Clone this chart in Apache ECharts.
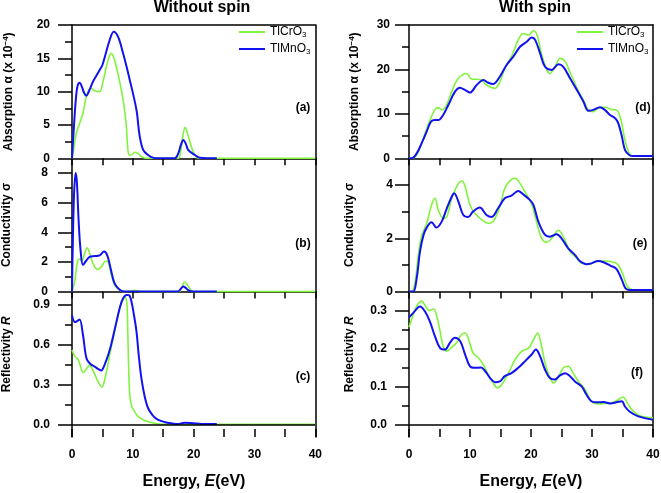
<!DOCTYPE html>
<html><head><meta charset="utf-8">
<script src="https://cdn.jsdelivr.net/npm/echarts@6/dist/echarts.min.js"></script>
<style>html,body{margin:0;padding:0;background:#fff}#c{width:661px;height:493px}</style>
</head><body><div id="c"></div>
<script>
// ---------- DATA ----------
const seriesNames = ['TlCrO3', 'TlMnO3'];
const energyTicks = [0, 5, 10, 15, 20, 25, 30, 35, 40];
const energyLabels = [0, 10, 20, 30, 40];

// (a) absorption, without spin
const absNoCrE = [0, 0.4, 0.71, 1.26, 1.8, 2.36, 3.07, 3.73, 4.55, 5.1, 5.65, 6.2, 6.47, 7.0, 7.84, 8.4, 8.7, 8.94, 9.2, 9.4, 9.76, 10.3, 10.85, 11.4, 12.2, 17.4, 17.9, 18.2, 18.6, 19.0, 19.35, 19.9, 20.4, 21.0, 40];
const absNoCr  = [0, 2.0, 3.75, 5.25, 6.75, 9.25, 10.5, 10.15, 10.0, 11.5, 13.75, 15.5, 15.75, 14.75, 11.5, 8.75, 6.8, 4.75, 1.25, 0.5, 0.5, 0.9, 0.75, 0.25, 0, 0, 1.2, 3.2, 4.65, 3.7, 2.6, 1.0, 0.25, 0, 0];
const absNoMnE = [0, 0.3, 0.6, 0.9, 1.26, 1.6, 2.0, 2.36, 2.9, 3.45, 4.0, 4.55, 5.0, 5.4, 6.2, 6.85, 7.57, 8.4, 9.5, 10.6, 11.1, 11.7, 12.5, 13.3, 14.1, 16.9, 17.5, 17.9, 18.3, 18.7, 19.1, 20.2, 21.0, 23.8];
const absNoMn  = [0, 4.5, 8.5, 10.8, 11.35, 10.8, 9.8, 9.4, 10.3, 11.5, 12.4, 13.25, 14.0, 15.25, 17.75, 19.0, 18.25, 15.75, 11.75, 7.25, 3.5, 1.25, 0.5, 0.1, 0, 0, 0.8, 2.0, 2.75, 2.2, 1.25, 0.5, 0.1, 0];

// (b) conductivity, without spin
const condNoCrE = [0, 0.44, 0.88, 1.26, 1.64, 2.08, 2.47, 2.9, 3.45, 4.17, 4.8, 5.5, 5.8, 6.36, 7.0, 7.84, 8.66, 9.5, 10.3, 11.2, 17.6, 18.1, 18.5, 18.9, 19.35, 19.9, 40];
const condNoCr  = [0, 0.65, 2.0, 2.2, 2.1, 2.6, 2.95, 2.6, 1.9, 1.5, 1.65, 2.05, 2.05, 1.33, 0.43, 0.1, 0, 0.02, 0.08, 0, 0, 0.35, 0.65, 0.5, 0.2, 0, 0];
const condNoMnE = [0, 0.1, 0.33, 0.6, 0.8, 1.1, 1.43, 1.8, 2.36, 2.9, 3.73, 4.55, 5.26, 5.8, 6.36, 7.0, 7.84, 8.66, 17.4, 17.9, 18.3, 18.7, 19.1, 19.9, 23.8];
const condNoMn  = [0, 2.5, 6.5, 8.0, 7.4, 4.7, 2.7, 1.8, 2.1, 2.35, 2.4, 2.45, 2.7, 2.45, 1.55, 0.55, 0.13, 0, 0, 0.2, 0.34, 0.25, 0.1, 0, 0];

// (c) reflectivity, without spin
const reflNoCrE = [0, 0.5, 1.05, 1.86, 2.4, 2.9, 3.5, 4.2, 4.9, 5.5, 6.2, 7.0, 7.84, 8.3, 8.7, 9.0, 9.15, 9.3, 9.5, 9.8, 10.3, 10.85, 11.95, 13.3, 15.0, 40];
const reflNoCr  = [0.56, 0.51, 0.484, 0.39, 0.42, 0.446, 0.40, 0.33, 0.28, 0.36, 0.525, 0.70, 0.875, 0.93, 0.955, 0.92, 0.75, 0.45, 0.22, 0.14, 0.095, 0.06, 0.028, 0.01, 0, 0];
const reflNoMnE = [0, 0.5, 0.9, 1.26, 1.8, 2.36, 2.9, 3.73, 4.55, 4.8, 5.37, 6.2, 7.0, 7.84, 8.4, 9.0, 9.4, 9.8, 10.2, 10.6, 10.96, 11.4, 11.95, 12.5, 13.3, 14.1, 15.2, 16.3, 17.4, 18.5, 19.9, 21.3, 23.8];
const reflNoMn  = [0.82, 0.77, 0.78, 0.79, 0.675, 0.5, 0.46, 0.435, 0.41, 0.405, 0.45, 0.56, 0.71, 0.875, 0.95, 0.975, 0.972, 0.92, 0.82, 0.70, 0.525, 0.35, 0.21, 0.123, 0.065, 0.035, 0.018, 0.008, 0.002, 0.012, 0.008, 0.003, 0.002];

// (d) absorption, with spin
const absSpCrE = [0, 0.44, 1.26, 2.08, 2.73, 3.44, 4.26, 4.8, 5.46, 6.17, 7.0, 8.1, 9.45, 10.3, 11.1, 11.9, 12.7, 14.1, 14.9, 15.7, 16.8, 17.9, 18.7, 19.6, 20.4, 21.0, 21.7, 22.6, 23.1, 23.9, 24.8, 25.6, 26.7, 27.8, 28.6, 29.4, 30.2, 31.0, 32.1, 33.2, 34.0, 34.75, 35.4, 36.1, 36.8, 40];
const absSpCr  = [0, 0, 0.75, 3.4, 6.0, 8.6, 11.0, 11.4, 10.9, 12.0, 15.0, 18.0, 19.1, 17.8, 17.8, 17.6, 16.5, 15.75, 17.25, 20.25, 22.9, 26.6, 28.1, 27.75, 28.7, 27.75, 23.6, 19.9, 19.1, 20.6, 22.5, 21.75, 18.4, 15.0, 13.1, 10.9, 10.5, 11.25, 11.5, 11.0, 10.9, 8.6, 4.1, 1.1, 0.5, 0.5];
const absSpMnE = [0, 0.44, 1.26, 2.08, 2.9, 3.6, 4.26, 4.8, 5.6, 6.45, 7.54, 8.36, 9.18, 10.0, 11.1, 12.2, 13.0, 13.8, 14.9, 16.0, 17.1, 18.2, 19.3, 20.1, 20.7, 21.5, 22.3, 23.4, 24.5, 25.3, 26.4, 27.5, 28.6, 29.4, 30.2, 31.3, 32.1, 32.95, 33.8, 34.3, 34.9, 35.4, 36.1, 36.8, 40];
const absSpMn  = [0, 0, 1.1, 3.4, 6.0, 8.25, 8.6, 8.6, 9.75, 12.0, 15.0, 15.9, 15.4, 14.8, 16.5, 17.6, 17.0, 16.7, 18.4, 21.0, 22.9, 25.1, 26.25, 27.2, 26.6, 23.6, 20.6, 19.9, 21.15, 20.6, 18.0, 15.4, 12.75, 10.7, 10.9, 11.5, 10.9, 9.75, 9.0, 7.9, 4.9, 1.9, 0.75, 0.5, 0.5];

// (e) conductivity, with spin
const condSpCrE = [0, 0.44, 1.0, 1.53, 2.08, 2.9, 3.7, 4.26, 4.8, 5.6, 6.2, 7.0, 8.1, 8.7, 9.2, 10.0, 10.8, 11.9, 13.0, 13.8, 14.9, 15.7, 16.7, 17.4, 18.2, 19.3, 20.1, 20.9, 21.75, 22.6, 23.4, 24.5, 25.3, 26.4, 27.5, 28.3, 29.7, 30.8, 32.1, 33.5, 34.3, 35.1, 35.8, 36.8, 40];
const condSpCr  = [0, 0, 0.375, 1.375, 2.1, 2.56, 3.25, 3.5, 3.06, 2.75, 2.8, 3.5, 4.06, 4.15, 3.94, 3.25, 2.94, 2.7, 2.56, 2.625, 3.19, 3.875, 4.19, 4.25, 4.06, 3.625, 3.3, 2.625, 2.0, 1.85, 2.0, 2.3, 2.06, 1.5, 1.25, 1.06, 1.03, 1.15, 1.15, 1.1, 1.0, 0.625, 0.19, 0.06, 0.06];
const condSpMnE = [0, 0.7, 1.26, 1.8, 2.35, 2.9, 3.7, 4.5, 5.36, 6.2, 7.0, 7.4, 8.1, 8.9, 9.7, 10.5, 11.6, 12.7, 13.55, 14.6, 15.7, 16.8, 17.9, 18.7, 19.8, 20.4, 21.2, 22.3, 23.1, 24.2, 25.0, 26.1, 27.2, 28.0, 29.1, 29.9, 31.0, 31.9, 33.0, 34.0, 34.9, 35.5, 36.2, 40];
const condSpMn  = [0, 0, 0.5, 1.5, 2.1, 2.4, 2.6, 2.4, 2.625, 3.125, 3.56, 3.69, 3.375, 2.875, 2.8, 3.0, 3.15, 2.875, 2.8, 3.125, 3.5, 3.6, 3.775, 3.65, 3.44, 3.25, 2.625, 2.125, 2.06, 2.15, 2.0, 1.625, 1.375, 1.15, 1.03, 1.06, 1.15, 1.1, 0.975, 0.85, 0.44, 0.125, 0.06, 0.06];

// (f) reflectivity, with spin
const reflSpCrE = [0, 0.7, 1.4, 2.08, 2.73, 3.3, 4.0, 4.5, 5.1, 5.6, 6.2, 7.0, 7.8, 8.6, 9.2, 9.7, 10.5, 11.4, 12.2, 13.0, 13.8, 14.5, 15.2, 16.3, 17.4, 18.5, 19.6, 20.4, 21.1, 21.6, 22.3, 23.0, 23.7, 24.4, 25.3, 26.1, 26.9, 27.8, 28.9, 29.9, 31.0, 32.1, 33.2, 34.3, 35.1, 35.8, 36.8, 38.1, 40];
const reflSpCr  = [0.256, 0.29, 0.316, 0.325, 0.311, 0.30, 0.304, 0.289, 0.245, 0.206, 0.193, 0.203, 0.215, 0.237, 0.241, 0.228, 0.188, 0.175, 0.157, 0.131, 0.109, 0.096, 0.105, 0.135, 0.171, 0.193, 0.201, 0.223, 0.241, 0.215, 0.162, 0.127, 0.109, 0.122, 0.149, 0.153, 0.135, 0.113, 0.091, 0.061, 0.054, 0.055, 0.056, 0.065, 0.072, 0.056, 0.034, 0.021, 0.017];
const reflSpMnE = [0, 0.7, 1.8, 2.6, 3.4, 4.26, 5.1, 5.9, 6.7, 7.5, 8.4, 9.2, 10.0, 10.8, 11.8, 12.5, 13.3, 14.1, 14.9, 15.7, 16.8, 17.9, 19.0, 20.1, 20.8, 21.5, 22.3, 23.1, 23.9, 24.75, 25.6, 26.4, 27.2, 28.3, 29.1, 29.9, 30.8, 31.9, 33.0, 34.0, 34.9, 35.4, 36.2, 37.6, 40];
const reflSpMn  = [0.282, 0.294, 0.311, 0.298, 0.272, 0.232, 0.201, 0.197, 0.215, 0.228, 0.219, 0.184, 0.153, 0.149, 0.150, 0.14, 0.122, 0.111, 0.113, 0.127, 0.135, 0.149, 0.166, 0.184, 0.197, 0.179, 0.144, 0.122, 0.118, 0.129, 0.135, 0.127, 0.113, 0.10, 0.078, 0.061, 0.058, 0.059, 0.055, 0.058, 0.061, 0.047, 0.033, 0.021, 0.012];

// axis tick labels
const ticksA = {major: [0, 5, 10, 15, 20], minor: [2.5, 7.5, 12.5, 17.5]};
const ticksB = {major: [0, 2, 4, 6, 8], minor: [1, 3, 5, 7]};
const ticksC = {major: [0, 0.3, 0.6, 0.9], minor: [0.15, 0.45, 0.75]};
const ticksD = {major: [0, 10, 20, 30], minor: [5, 15, 25]};
const ticksE = {major: [0, 2, 4], minor: [1, 3]};
const ticksF = {major: [0, 0.1, 0.2, 0.3], minor: [0.05, 0.15, 0.25]};

// ---------- CHART ----------
const FONT = "'Liberation Sans', Arial, sans-serif";
const GREEN = '#80f43c', BLUE = '#1212f0';
const zip = (xs, ys) => xs.map((x, i) => [x, ys[i]]);

const nameRich = {
  t: {fontFamily: FONT, fontWeight: 'bold', fontSize: 12, color: '#000', lineHeight: 14},
  i: {fontFamily: FONT, fontWeight: 'bold', fontStyle: 'italic', fontSize: 12, color: '#000', lineHeight: 14},
  s: {fontFamily: FONT, fontWeight: 'bold', fontSize: 8, color: '#000', lineHeight: 14, verticalAlign: 'top', padding: [0, 0, 6, 0]}
};

const panels = [
  {left: 72,  w: 243.3, top: 25,    h: 133.3, min: 0, max: 20, t: ticksA, fmt: v => String(v), name: '{t|Absorption α (x 10}{s|−4}{t|)}', gap: 56, margin: 22, pad: 0, cr: [absNoCrE, absNoCr], mn: [absNoMnE, absNoMn], bottom: false, top1: true},
  {left: 72,  w: 243.3, top: 158.3, h: 133.3, min: 0, max: 9, t: ticksB, fmt: v => String(v), name: '{t|Conductivity σ}', gap: 58, margin: 24, pad: 0, cr: [condNoCrE, condNoCr], mn: [condNoMnE, condNoMn], bottom: false},
  {left: 72,  w: 243.3, top: 291.6, h: 145.4, min: -0.0956, max: 1.0, t: ticksC, fmt: v => v.toFixed(1), name: '{t|Reflectivity }{i|R}', gap: 58, margin: 22, pad: 20, cr: [reflNoCrE, reflNoCr], mn: [reflNoMnE, reflNoMn], bottom: true},
  {left: 409, w: 244,   top: 25,    h: 133.3, min: 0, max: 30, t: ticksD, fmt: v => String(v), name: '{t|Absorption α (x 10}{s|−4}{t|)}', gap: 47, margin: 19, pad: 0, cr: [absSpCrE, absSpCr], mn: [absSpMnE, absSpMn], bottom: false, top1: true},
  {left: 409, w: 244,   top: 158.3, h: 133.3, min: 0, max: 5, t: ticksE, fmt: v => String(v), name: '{t|Conductivity σ}', gap: 52, margin: 16, pad: 0, cr: [condSpCrE, condSpCr], mn: [condSpMnE, condSpMn], bottom: false},
  {left: 409, w: 244,   top: 291.6, h: 145.4, min: -0.0334, max: 0.35, t: ticksF, fmt: v => v.toFixed(1), name: '{t|Reflectivity }{i|R}', gap: 52, margin: 22, pad: 20, cr: [reflSpCrE, reflSpCr], mn: [reflSpMnE, reflSpMn], bottom: true}
];

const grid = [], xAxis = [], yAxis = [], series = [];
const axisLine = {show: true, onZero: false, lineStyle: {color: '#000', width: 1.5}};
panels.forEach((p, i) => {
  grid.push({left: p.left, top: p.top, width: p.w, height: p.h, show: false, outerBoundsMode: 'none'});
  const xi = xAxis.length;
  xAxis.push({
    type: 'value', gridIndex: i, min: 0, max: 40, position: 'bottom',
    axisLine: p.bottom ? {show: false, onZero: false} : axisLine,
    axisTick: {show: true, inside: p.bottom, length: p.bottom ? 8 : 7, lineStyle: {color: '#000', width: 1.5}, customValues: energyTicks},
    axisLabel: p.bottom ? {show: true, margin: 12, color: '#000', fontFamily: FONT, fontWeight: 'bold', fontSize: 12, customValues: energyLabels} : {show: false},
    splitLine: {show: false}
  });
  if (p.top1) {
    xAxis.push({type: 'value', gridIndex: i, min: 0, max: 40, position: 'top', axisLine: axisLine,
      axisTick: {show: false}, axisLabel: {show: false}, splitLine: {show: false}});
  }
  const yi = yAxis.length;
  yAxis.push({
    type: 'value', gridIndex: i, min: p.min, max: p.max, position: 'left', offset: 0,
    axisLine: axisLine,
    axisTick: {show: true, length: 14, lineStyle: {color: '#000', width: 1.5}, customValues: p.t.major},
    axisLabel: {show: true, margin: p.margin, color: '#000', fontFamily: FONT, fontWeight: 'bold', fontSize: 12, customValues: p.t.major, formatter: p.fmt},
    splitLine: {show: false},
    name: p.name, nameLocation: 'middle', nameRotate: 90, nameGap: p.gap,
    nameTextStyle: {rich: nameRich, padding: [0, 0, 0, p.pad]}
  });
  yAxis.push({
    type: 'value', gridIndex: i, min: p.min, max: p.max, position: 'left', offset: 0,
    axisLine: {show: false, onZero: false},
    axisTick: {show: true, length: 7, lineStyle: {color: '#000', width: 1.5}, customValues: p.t.minor},
    axisLabel: {show: false}, splitLine: {show: false}
  });
  yAxis.push({
    type: 'value', gridIndex: i, min: p.min, max: p.max, position: 'right', offset: 0,
    axisLine: axisLine, axisTick: {show: false}, axisLabel: {show: false}, splitLine: {show: false}
  });
  const crSeries = {
    name: seriesNames[0], type: 'line', xAxisIndex: xi, yAxisIndex: yi, data: zip(p.cr[0], p.cr[1]),
    symbol: 'none', smooth: 0.35, lineStyle: {color: GREEN, width: 1.6}, itemStyle: {color: GREEN}, z: 2
  };
  if (p.bottom) {
    crSeries.markLine = {silent: true, symbol: 'none', label: {show: false}, animation: false,
      lineStyle: {color: '#000', width: 1.5, type: 'solid'}, data: [{yAxis: 0}]};
  }
  series.push(crSeries);
  series.push({
    name: seriesNames[1], type: 'line', xAxisIndex: xi, yAxisIndex: yi, data: zip(p.mn[0], p.mn[1]),
    symbol: 'none', smooth: 0.35, lineStyle: {color: BLUE, width: 2}, itemStyle: {color: BLUE}, z: 3
  });
});

const legendRich = {
  a: {fontFamily: FONT, fontSize: 12, color: '#000', lineHeight: 14},
  b: {fontFamily: FONT, fontSize: 8, color: '#000', lineHeight: 14, verticalAlign: 'bottom', padding: [4, 0, 0, 0]}
};
const legendFmt = n => n === 'TlCrO3' ? '{a|TlCrO}{b|3}' : '{a|TlMnO}{b|3}';
const mkLegend = (left) => ({
  left: left, top: 26, orient: 'vertical', padding: 0, itemWidth: 26, itemHeight: 2, itemGap: 4,
  icon: 'rect', data: seriesNames, formatter: legendFmt, selectedMode: false,
  textStyle: {fontFamily: FONT, fontSize: 12, color: '#000', rich: legendRich}
});

const txt = (x, y, text, size, rich) => ({
  type: 'text', x: x, y: y, silent: true,
  style: {text: text, fill: '#000', font: 'bold ' + size + 'px ' + FONT, align: 'center', verticalAlign: 'middle', rich: rich}
});
const energyRich = {
  b: {fontFamily: FONT, fontWeight: 'bold', fontSize: 16, fill: '#000'},
  i: {fontFamily: FONT, fontWeight: 'bold', fontStyle: 'italic', fontSize: 16, fill: '#000'}
};

const chart = echarts.init(document.getElementById('c'), null, {renderer: 'canvas'});
chart.setOption({
  backgroundColor: '#fff',
  animation: false,
  grid, xAxis, yAxis, series,
  legend: [mkLegend(239), mkLegend(577)],
  graphic: [
    txt(202, 8, 'Without spin', 16),
    txt(535, 8, 'With spin', 16),
    txt(303, 108, '(a)', 12), txt(303, 244, '(b)', 12), txt(303, 377, '(c)', 12),
    txt(643, 108, '(d)', 12), txt(640, 244, '(e)', 12), txt(637, 373, '(f)', 12),
    txt(194, 482, '{b|Energy, }{i|E}{b|(eV)}', 16, energyRich),
    txt(531, 482, '{b|Energy, }{i|E}{b|(eV)}', 16, energyRich)
  ]
});
</script></body></html>
